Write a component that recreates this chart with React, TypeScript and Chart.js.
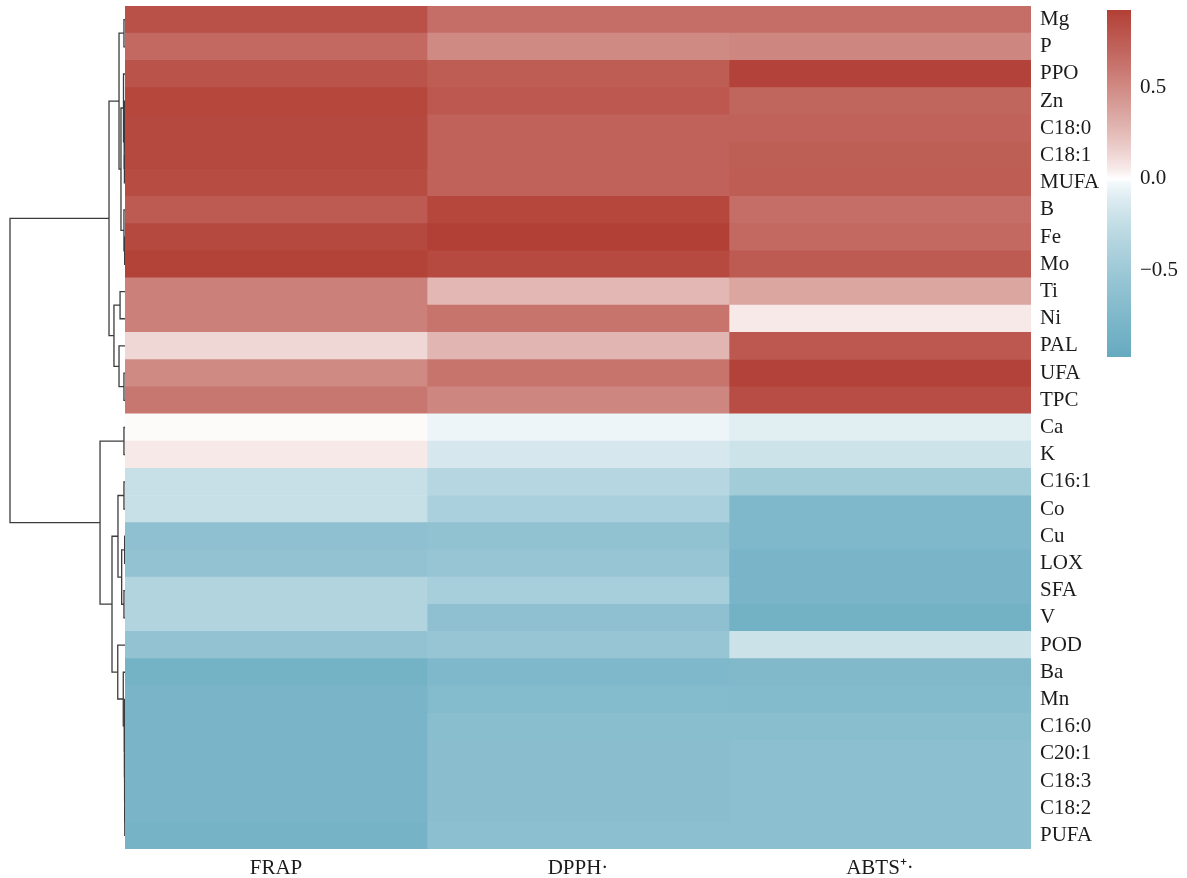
import { useEffect, useRef } from "react";
import { Chart, registerables } from "chart.js";

Chart.register(...registerables);

// Row order follows the clustering (top to bottom)
const rowLabels = [
  "Mg", "P", "PPO", "Zn", "C18:0", "C18:1", "MUFA", "B", "Fe", "Mo",
  "Ti", "Ni", "PAL", "UFA", "TPC", "Ca", "K", "C16:1", "Co", "Cu",
  "LOX", "SFA", "V", "POD", "Ba", "Mn", "C16:0", "C20:1", "C18:3", "C18:2", "PUFA",
];
const columnLabels = ["FRAP", "DPPH·", "ABTS⁺·"];

// Correlation coefficients per antioxidant assay
const frapValues = [
  0.82, 0.68, 0.8, 0.88, 0.87, 0.87, 0.85, 0.76, 0.87, 0.91,
  0.55, 0.55, 0.13, 0.5, 0.6, 0.01, 0.06, -0.22, -0.22, -0.62,
  -0.58, -0.36, -0.36, -0.58, -0.84, -0.8, -0.8, -0.8, -0.8, -0.8, -0.82,
];
const dpphValues = [
  0.65, 0.5, 0.75, 0.78, 0.72, 0.72, 0.72, 0.88, 0.92, 0.86,
  0.27, 0.62, 0.28, 0.62, 0.52, -0.04, -0.14, -0.33, -0.4, -0.6,
  -0.55, -0.43, -0.62, -0.55, -0.74, -0.7, -0.66, -0.65, -0.65, -0.65, -0.64,
];
const abtsValues = [
  0.65, 0.52, 0.9, 0.7, 0.72, 0.74, 0.75, 0.65, 0.68, 0.76,
  0.36, 0.06, 0.78, 0.9, 0.84, -0.09, -0.19, -0.46, -0.74, -0.74,
  -0.8, -0.8, -0.85, -0.2, -0.73, -0.71, -0.66, -0.64, -0.64, -0.64, -0.64,
];
const seriesValues = [frapValues, dpphValues, abtsValues];

// Colour key range and its labelled ticks
const scaleMin = -0.97;
const scaleMax = 0.92;
const colorTicks = [-0.5, 0, 0.5];

// Hierarchical clustering of the rows: [left node, right node, merge height].
// Nodes 0..30 are rows; each merge creates the next node id (31, 32, ...).
const linkage: [number, number, number][] = [
  [3, 4, 0.04],    // 31 Zn + C18:0
  [5, 6, 0.05],    // 32 C18:1 + MUFA
  [31, 32, 0.08],  // 33
  [2, 33, 0.13],   // 34 PPO
  [8, 9, 0.03],    // 35 Fe + Mo
  [7, 35, 0.09],   // 36 B
  [34, 36, 0.35],  // 37
  [0, 1, 0.09],    // 38 Mg + P
  [38, 37, 0.52],  // 39
  [10, 11, 0.43],  // 40 Ti + Ni
  [13, 14, 0.09],  // 41 UFA + TPC
  [12, 41, 0.52],  // 42 PAL
  [40, 42, 0.96],  // 43
  [39, 43, 1.39],  // 44 positive group
  [15, 16, 0.09],  // 45 Ca + K
  [17, 18, 0.09],  // 46 C16:1 + Co
  [19, 20, 0.03],  // 47 Cu + LOX
  [21, 22, 0.09],  // 48 SFA + V
  [47, 48, 0.29],  // 49
  [46, 49, 0.61],  // 50
  [29, 30, 0.02],  // 51 C18:2 + PUFA
  [28, 51, 0.03],  // 52 C18:3
  [27, 52, 0.04],  // 53 C20:1
  [26, 53, 0.05],  // 54 C16:0
  [25, 54, 0.06],  // 55 Mn
  [24, 55, 0.15],  // 56 Ba
  [23, 56, 0.63],  // 57 POD
  [50, 57, 1.13],  // 58
  [45, 58, 2.17],  // 59 negative group
  [44, 59, 10.0],  // 60 root
];
const rootHeight = 10;

const FONT = "'Liberation Serif', 'Times New Roman', serif";
const TEXT_COLOR = "#1b1b1b";

const redEnd = [178, 64, 54];
const blueEnd = [102, 170, 192];

// Diverging red–white–blue ramp, eased so mid values carry more colour
function valueColor(v: number): string {
  const pos = v >= 0;
  const raw = pos ? Math.min(v / scaleMax, 1) : Math.min(v / scaleMin, 1);
  const t = Math.pow(raw, pos ? 0.8 : 0.68);
  const end = pos ? redEnd : blueEnd;
  const c = end.map((e) => Math.round(255 + (e - 255) * t));
  return `rgb(${c[0]}, ${c[1]}, ${c[2]})`;
}

function dendrogramSegments() {
  const nodes = rowLabels.map((_, i) => ({ y: i + 0.5, h: 0 }));
  const segments: { x: number; y: number }[][] = [];
  linkage.forEach(([a, b, h]) => {
    const A = nodes[a];
    const B = nodes[b];
    segments.push([
      { x: A.h, y: A.y },
      { x: h, y: A.y },
      { x: h, y: B.y },
      { x: B.h, y: B.y },
    ]);
    nodes.push({ y: (A.y + B.y) / 2, h });
  });
  return segments;
}

const PLOT_TOP = 6;
const PLOT_BOTTOM_GAP = 29;
const PAGE_H = 878;

export default function App() {
  const dendroRef = useRef<HTMLCanvasElement>(null);
  const heatRef = useRef<HTMLCanvasElement>(null);
  const keyRef = useRef<HTMLCanvasElement>(null);

  useEffect(() => {
    const charts: Chart[] = [];

    // Row dendrogram
    charts.push(
      new Chart(dendroRef.current!, {
        type: "scatter",
        data: {
          datasets: dendrogramSegments().map((seg) => ({
            data: seg,
            showLine: true,
            borderColor: "#3c3c3c",
            borderWidth: 1.3,
            pointRadius: 0,
            fill: false,
            clip: false,
          })),
        },
        options: {
          animation: false,
          responsive: false,
          layout: { padding: { left: 10, right: 0, top: PLOT_TOP, bottom: PLOT_BOTTOM_GAP } },
          plugins: { legend: { display: false }, tooltip: { enabled: false } },
          scales: {
            x: { type: "linear", min: 0, max: rootHeight, reverse: true, display: false },
            y: { type: "linear", min: 0, max: rowLabels.length, reverse: true, display: false },
          },
        },
      } as any)
    );

    const tickFont = { family: FONT, size: 21 };

    // Heatmap built from stacked unit-width horizontal bars
    charts.push(
      new Chart(heatRef.current!, {
        type: "bar",
        data: {
          labels: rowLabels,
          datasets: columnLabels.map((name, c) => ({
            label: name,
            data: rowLabels.map(() => 1),
            backgroundColor: seriesValues[c].map(valueColor),
            borderWidth: 0,
            barPercentage: 1,
            categoryPercentage: 1,
          })),
        },
        options: {
          indexAxis: "y",
          animation: false,
          responsive: false,
          layout: { padding: { top: PLOT_TOP, left: 0, right: 0, bottom: 0 } },
          plugins: { legend: { display: false }, tooltip: { enabled: false } },
          scales: {
            x: {
              type: "linear",
              stacked: true,
              min: 0,
              max: columnLabels.length,
              position: "bottom",
              grid: { display: false, drawTicks: false },
              border: { display: false },
              afterBuildTicks: (s: any) => {
                s.ticks = columnLabels.map((_, i) => ({ value: i + 0.5 }));
              },
              ticks: {
                autoSkip: false,
                maxRotation: 0,
                padding: 7,
                color: TEXT_COLOR,
                font: tickFont,
                callback: (_v: any, i: number) => columnLabels[i],
              },
              afterFit: (s: any) => {
                s.height = PLOT_BOTTOM_GAP;
                s.paddingLeft = 0;
                s.paddingRight = 0;
              },
            },
            y: {
              type: "category",
              stacked: true,
              position: "right",
              grid: { display: false, drawTicks: false },
              border: { display: false },
              ticks: { autoSkip: false, padding: 9, color: TEXT_COLOR, font: tickFont },
              afterFit: (s: any) => {
                s.width = 94;
                s.paddingTop = 0;
                s.paddingBottom = 0;
              },
            },
          },
        },
      } as any)
    );

    // Colour key
    charts.push(
      new Chart(keyRef.current!, {
        type: "bar",
        data: {
          labels: [""],
          datasets: [
            {
              data: [[scaleMin, scaleMax]],
              borderWidth: 0,
              barPercentage: 1,
              categoryPercentage: 1,
              backgroundColor: (ctx: any) => {
                const chart = ctx.chart;
                if (!chart.chartArea) return "rgba(0,0,0,0)";
                const y = chart.scales.y;
                const y0 = y.getPixelForValue(scaleMin);
                const y1 = y.getPixelForValue(scaleMax);
                const g = chart.ctx.createLinearGradient(0, y0, 0, y1);
                const steps = 24;
                for (let k = 0; k <= steps; k++) {
                  const v = scaleMin + ((scaleMax - scaleMin) * k) / steps;
                  g.addColorStop(k / steps, valueColor(v));
                }
                g.addColorStop((0 - scaleMin) / (scaleMax - scaleMin), valueColor(0));
                return g;
              },
            },
          ],
        },
        options: {
          animation: false,
          responsive: false,
          layout: { padding: { left: 7, right: 0, top: 10, bottom: 13 } },
          plugins: { legend: { display: false }, tooltip: { enabled: false } },
          scales: {
            x: { display: false },
            y: {
              type: "linear",
              position: "right",
              min: scaleMin,
              max: scaleMax,
              grid: { display: false, drawTicks: false },
              border: { display: false },
              afterBuildTicks: (s: any) => {
                s.ticks = colorTicks.map((v) => ({ value: v }));
              },
              ticks: {
                padding: 9,
                color: TEXT_COLOR,
                font: tickFont,
                callback: (v: any) => {
                  const n = Number(v);
                  return (n < 0 ? "\u2212" : "") + Math.abs(n).toFixed(1);
                },
              },
              afterFit: (s: any) => {
                s.width = 56;
                s.paddingTop = 0;
                s.paddingBottom = 0;
              },
            },
          },
        },
      } as any)
    );

    return () => charts.forEach((c) => c.destroy());
  }, []);

  return (
    <div style={{ position: "absolute", left: 0, top: 0, width: 1187, height: PAGE_H, background: "#ffffff" }}>
      <canvas
        ref={dendroRef}
        width={125}
        height={PAGE_H}
        style={{ position: "absolute", left: 0, top: 0, width: 125, height: PAGE_H }}
      />
      <canvas
        ref={heatRef}
        width={1000}
        height={PAGE_H}
        style={{ position: "absolute", left: 125, top: 0, width: 1000, height: PAGE_H }}
      />
      <canvas
        ref={keyRef}
        width={87}
        height={370}
        style={{ position: "absolute", left: 1100, top: 0, width: 87, height: 370 }}
      />
    </div>
  );
}
